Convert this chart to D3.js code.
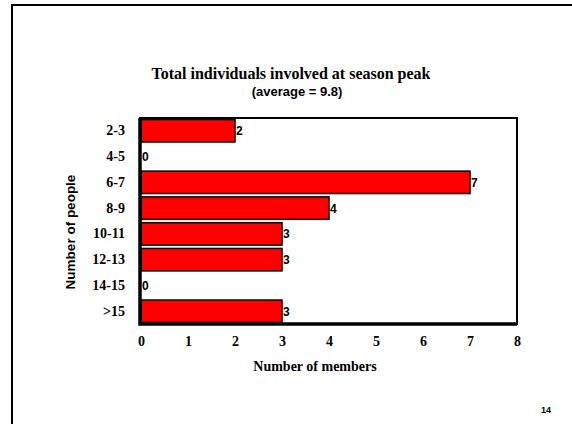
<!DOCTYPE html>
<meta charset="utf-8">
<script src="https://d3js.org/d3.v7.min.js"></script>
<style>
  body { margin: 0; background: #fff; }
</style>
<div id="chart"></div>
<script>
    const categories = ["2-3", "4-5", "6-7", "8-9", "10-11", "12-13", "14-15", ">15"];
    const members = [2, 0, 7, 4, 3, 3, 0, 3];
    const xTicks = [0, 1, 2, 3, 4, 5, 6, 7, 8];

    const SERIF = "'Liberation Serif', 'Times New Roman', serif";
    const SANS = "'Liberation Sans', Arial, sans-serif";

    const W = 572, H = 424;
    const plot = {left: 140, right: 517, top: 118, bottom: 324};

    const svg = d3.select("#chart")
      .append("svg")
        .attr("width", W)
        .attr("height", H);

    // slide border
    svg.append("path")
        .attr("d", `M12,${H + 5} V5 H${W + 5}`)
        .attr("fill", "none")
        .attr("stroke", "#000")
        .attr("stroke-width", 2);

    svg.append("text")
        .attr("x", 291)
        .attr("y", 79)
        .attr("text-anchor", "middle")
        .style("font", `bold 16px ${SERIF}`)
        .text("Total individuals involved at season peak");
    svg.append("text")
        .attr("x", 297)
        .attr("y", 96)
        .attr("text-anchor", "middle")
        .style("font", `bold 13px ${SANS}`)
        .text("(average = 9.8)");

    const x = d3.scaleLinear()
        .domain([0, 8])
        .range([plot.left + 1, plot.right]);

    const y = d3.scaleBand()
        .domain(categories)
        .range([plot.top, plot.bottom])
        .paddingInner(0.13)
        .paddingOuter(0.06);

    // frame
    svg.append("rect")
        .attr("x", plot.left)
        .attr("y", plot.top)
        .attr("width", plot.right - plot.left)
        .attr("height", plot.bottom - plot.top)
        .attr("fill", "#fff")
        .attr("stroke", "#000")
        .attr("stroke-width", 2);

    svg.selectAll("rect.bar")
        .data(members)
        .join("rect")
          .attr("class", "bar")
          .attr("x", x(0))
          .attr("y", (d, i) => y(categories[i]))
          .attr("width", d => x(d) - x(0))
          .attr("height", y.bandwidth())
          .attr("fill", "#ff0000")
          .attr("stroke", "#000")
          .attr("stroke-width", 1.5)
          .attr("display", d => d > 0 ? null : "none");

    svg.selectAll("text.val")
        .data(members)
        .join("text")
          .attr("class", "val")
          .attr("x", d => x(d) + 1)
          .attr("y", (d, i) => y(categories[i]) + y.bandwidth() / 2 + 4.5)
          .style("font", `bold 12px ${SANS}`)
          .text(d => d);

    // thick left / bottom axis lines
    svg.append("path")
        .attr("d", `M${plot.left},${plot.top} V${plot.bottom} H${plot.right}`)
        .attr("fill", "none")
        .attr("stroke", "#000")
        .attr("stroke-width", 3.5);

    const xAxis = svg.append("g")
        .attr("transform", `translate(0,${plot.bottom})`)
        .call(d3.axisBottom(x).tickValues(xTicks).tickSize(0).tickPadding(12).tickFormat(d3.format("d")));
    xAxis.select(".domain").remove();
    xAxis.selectAll("text")
        .style("font", `bold 14px ${SERIF}`)
        .attr("fill", "#000");

    const yAxis = svg.append("g")
        .attr("transform", `translate(${plot.left},0)`)
        .call(d3.axisLeft(y).tickSize(0).tickPadding(15));
    yAxis.select(".domain").remove();
    yAxis.selectAll("text")
        .style("font", `bold 14px ${SERIF}`)
        .attr("fill", "#000");

    svg.append("text")
        .attr("x", 315)
        .attr("y", 371)
        .attr("text-anchor", "middle")
        .style("font", `bold 14px ${SERIF}`)
        .text("Number of members");

    svg.append("text")
        .attr("transform", "translate(75,232) rotate(-90)")
        .attr("text-anchor", "middle")
        .style("font", `bold 13.5px ${SANS}`)
        .text("Number of people");

    svg.append("text")
        .attr("x", 546)
        .attr("y", 413)
        .attr("text-anchor", "middle")
        .style("font", `bold 9px ${SANS}`)
        .text("14");
</script>
